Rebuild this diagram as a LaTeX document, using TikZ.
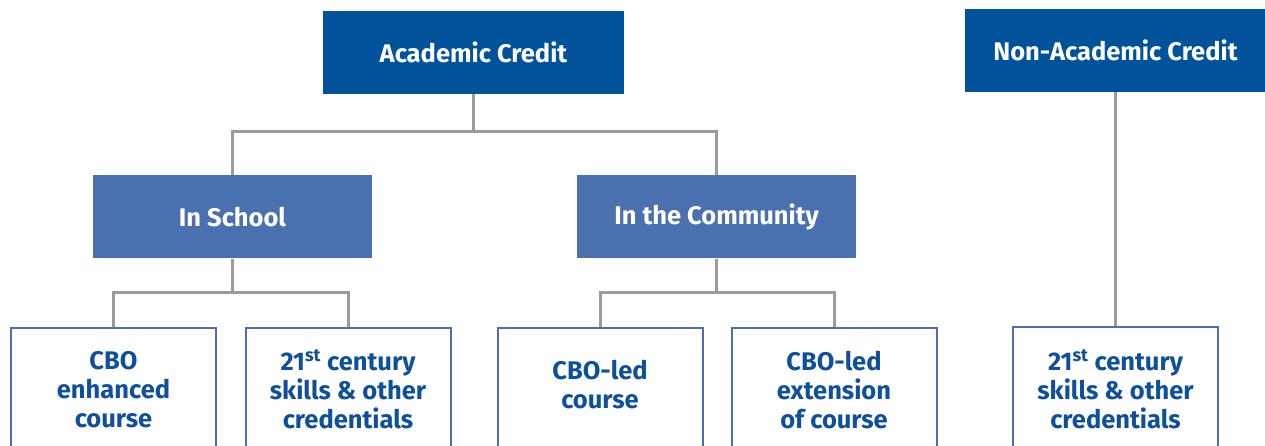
\documentclass[tikz,border=0pt]{standalone}
\usepackage{fontspec}
\setmainfont{Fira Sans}
\usepackage{tikz}
\usetikzlibrary{
  calc,
  positioning,
}
\definecolor{darkblue}{RGB}{0,82,155}
\definecolor{midblue}{RGB}{74,112,176}
\definecolor{leaftext}{RGB}{14,80,156}
\definecolor{linegray}{RGB}{155,155,157}

\begin{document}
\begin{tikzpicture}[x=1pt, y=-1pt,
  every node/.style={font=\fontsize{25.5}{29}\selectfont\bfseries},
  topbox/.style={fill=darkblue, text=white, minimum width=301pt, minimum height=83pt},
  midbox/.style={fill=midblue, text=white, minimum width=279pt, minimum height=83pt},
  leafbox/.style={draw=midblue, line width=2pt, text=leaftext, align=center, minimum width=205pt, minimum height=124pt},
  link/.style={draw=linegray, line width=3pt}]
\path[use as bounding box, clip] (0,0) rectangle (1265,446);

\node[topbox] (acad) at (473.5,52.5) {Academic Credit};
\node[topbox] (nonacad) at (1115.5,50.5) {Non-Academic Credit};

\node[midbox, below=81pt of acad, xshift=-241pt] (school) {In School};
\node[midbox, below=81pt of acad, xshift=243pt] (comm) {In the Community};

\node[leafbox, below=68pt of school, xshift=-119pt] (enh) {CBO\\enhanced\\course};
\node[leafbox, below=68pt of school, xshift=115.5pt] (skills) {21\textsuperscript{st} century\\skills \& other\\credentials};
\node[leafbox, text depth=10pt, below=68pt of comm, xshift=-116.5pt] (led) {CBO-led\\course};
\node[leafbox, below=68pt of comm, xshift=117.5pt] (ext) {CBO-led\\extension\\of course};
\node[leafbox, below=234pt of nonacad] (nskills) {21\textsuperscript{st} century\\skills \& other\\credentials};

\draw[link] (acad.south) -- ++(0,37) -| (school.north);
\draw[link] (acad.south) -- ++(0,37) -| (comm.north);
\draw[link] (school.south) -- ++(0,34) -| (enh.north);
\draw[link] (school.south) -- ++(0,34) -| (skills.north);
\draw[link] (comm.south) -- ++(0,34) -| (led.north);
\draw[link] (comm.south) -- ++(0,34) -| (ext.north);
\draw[link] (nonacad.south) -- (nskills.north);
\end{tikzpicture}
\end{document}
